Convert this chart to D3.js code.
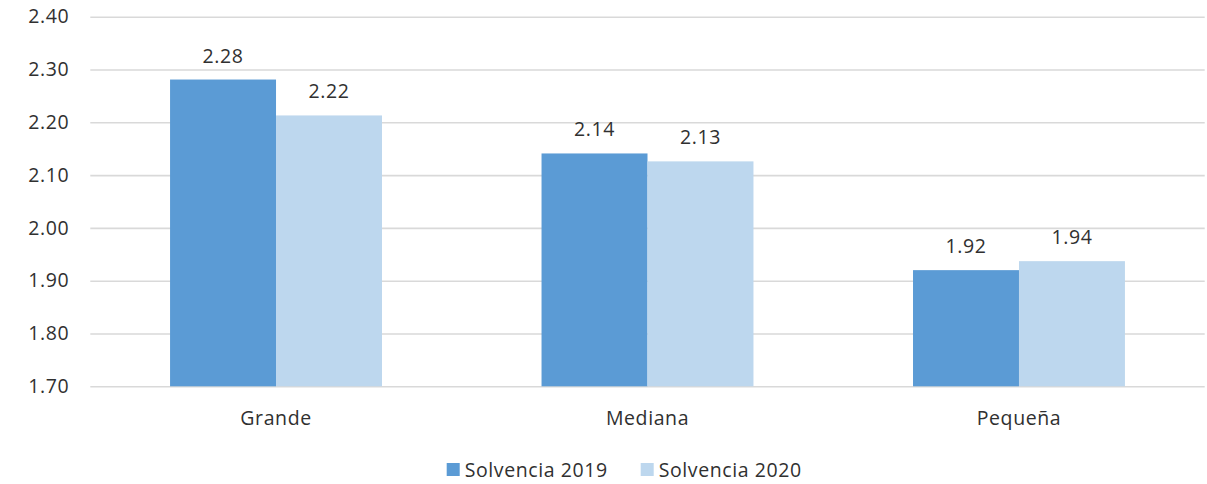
<!DOCTYPE html>
<html><head><meta charset="utf-8">
<script src="https://cdn.jsdelivr.net/npm/d3@7"></script>
<style>body{margin:0;background:#fff}svg{display:block}</style>
</head><body>
<svg id="c" width="1207" height="484"></svg>
<script>
const categories = ["Grande", "Mediana", "Pequeña"];
const seriesNames = ["Solvencia 2019", "Solvencia 2020"];
const values2019 = [2.281, 2.141, 1.920];
const values2020 = [2.213, 2.126, 1.937];
const labels2019 = ["2.28", "2.14", "1.92"];
const labels2020 = ["2.22", "2.13", "1.94"];
const yTicks = [1.70, 1.80, 1.90, 2.00, 2.10, 2.20, 2.30, 2.40];
const colors = ["#5B9BD5", "#BDD7EE"];

(function () {
const svg = d3.select("#c");
const font = "'Open Sans', 'Noto Sans', sans-serif";
const fs = "19.5px", ls = "0.6px", tc = "#303030";
const mLeft = 90.3, mRight = 1204.7, mTop = 16.7, mBottom = 386.3;

const y = d3.scaleLinear().domain([1.70, 2.40]).range([mBottom, mTop]);
const x0 = d3.scaleBand().domain(categories).range([mLeft, mRight]).paddingInner(0.4295).paddingOuter(0.2147);
const x1 = d3.scaleBand().domain([0, 1]).range([0, x0.bandwidth()]);

const styleText = (sel) => sel.attr("fill", tc).style("font-family", font).style("font-size", fs).style("letter-spacing", ls);

const yAxis = d3.axisLeft(y).tickValues(yTicks).tickSize(-(mRight - mLeft)).tickFormat(d3.format(".2f")).tickPadding(20);
const ga = svg.append("g").attr("transform", `translate(${mLeft},0)`).call(yAxis);
ga.select(".domain").remove();
ga.selectAll(".tick line").attr("stroke", "#D9D9D9").attr("stroke-width", 1.6);
ga.selectAll(".tick text").call(styleText).attr("x", -21);

const series = [values2019, values2020];
const labels = [labels2019, labels2020];
series.forEach((vals, s) => {
  const g = svg.append("g");
  g.selectAll("rect").data(categories).join("rect")
    .attr("x", (d) => x0(d) + x1(s))
    .attr("width", x1.bandwidth())
    .attr("y", (d, i) => y(vals[i]))
    .attr("height", (d, i) => y(1.70) - y(vals[i]))
    .attr("fill", colors[s]);
  g.selectAll("text").data(categories).join("text")
    .attr("x", (d) => x0(d) + x1(s) + x1.bandwidth() / 2)
    .attr("y", (d, i) => y(vals[i]) - 17)
    .attr("text-anchor", "middle")
    .call(styleText)
    .text((d, i) => labels[s][i]);
});

const xAxis = d3.axisBottom(x0).tickSize(0).tickPadding(0);
const gx = svg.append("g").attr("transform", `translate(0,${mBottom})`).call(xAxis);
gx.select(".domain").remove();
gx.selectAll(".tick text").call(styleText).attr("y", 0).attr("dy", "0").attr("transform", "translate(0,39)");

const legX = [446.7, 640.7];
seriesNames.forEach((n, i) => {
  svg.append("rect").attr("x", legX[i]).attr("y", 463).attr("width", 13).attr("height", 13).attr("fill", colors[i]);
  svg.append("text").attr("x", legX[i] + 18).attr("y", 476.5).call(styleText).text(n);
});
})();
</script>
</body></html>
